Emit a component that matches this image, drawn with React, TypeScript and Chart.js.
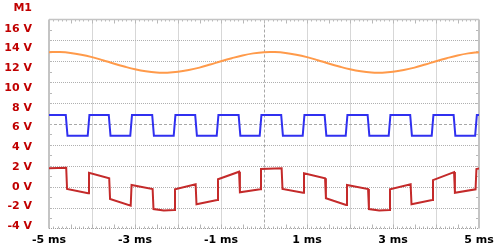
import { useEffect, useRef } from "react";
import { Chart, registerables } from "chart.js";

Chart.register(...registerables);

const xTickValues = [-5, -3, -1, 1, 3, 5];
const yTickValues = [-4, -2, 0, 2, 4, 6, 8, 10, 12, 14, 16];

const orangeTime = [
  -5, -4.75, -4.5, -4.25, -4, -3.75, -3.5, -3.25, -3, -2.75, -2.5, -2.25, -2, -1.75, -1.5, -1.25, -1, -0.75, -0.5, -0.25,
  0, 0.25, 0.5, 0.75, 1, 1.25, 1.5, 1.75, 2, 2.25, 2.5, 2.75, 3, 3.25, 3.5, 3.75, 4, 4.25, 4.5, 4.75, 5,
];
const orangeVolts = [
  13.63, 13.64, 13.56, 13.38, 13.13, 12.82, 12.49, 12.18, 11.9, 11.69, 11.57, 11.56, 11.64, 11.82, 12.07, 12.38, 12.71,
  13.02, 13.3, 13.51, 13.63, 13.64, 13.56, 13.38, 13.13, 12.82, 12.49, 12.18, 11.9, 11.69, 11.57, 11.56, 11.64, 11.82,
  12.07, 12.38, 12.71, 13.02, 13.3, 13.51, 13.63,
];

const blueTime = [
  -5, -4.61, -4.57, -4.1, -4.06, -3.61, -3.57, -3.11, -3.07, -2.6, -2.56, -2.1, -2.06, -1.6, -1.56, -1.1, -1.06, -0.59,
  -0.55, -0.1, -0.06, 0.4, 0.44, 0.9, 0.94, 1.41, 1.45, 1.9, 1.94, 2.41, 2.45, 2.9, 2.94, 3.4, 3.44, 3.9, 3.94, 4.41,
  4.45, 4.91, 4.95, 5,
];
const blueVolts = [
  7.27, 7.27, 5.17, 5.17, 7.27, 7.27, 5.17, 5.17, 7.27, 7.27, 5.17, 5.17, 7.27, 7.27, 5.17, 5.17, 7.27, 7.27, 5.17, 5.17,
  7.27, 7.27, 5.17, 5.17, 7.27, 7.27, 5.17, 5.17, 7.27, 7.27, 5.17, 5.17, 7.27, 7.27, 5.17, 5.17, 7.27, 7.27, 5.17, 5.17,
  7.27, 7.27,
];

const redTime = [
  -5, -4.6, -4.58, -4.09, -4.07, -3.6, -3.58, -3.1, -3.08, -2.59, -2.57, -2.33, -2.09, -2.07, -1.59, -1.57, -1.09, -1.07,
  -0.58, -0.56, -0.09, -0.07, 0.41, 0.43, 0.91, 0.93, 1.42, 1.44, 1.91, 1.93, 2.42, 2.44, 2.68, 2.91, 2.93, 3.41, 3.43,
  3.91, 3.93, 4.42, 4.44, 4.92, 4.94, 5,
];
const redVolts = [
  1.87, 1.93, -0.22, -0.66, 1.43, 0.86, -1.24, -1.91, 0.18, -0.22, -2.25, -2.4, -2.35, -0.25, 0.25, -1.77, -1.34, 0.76,
  1.53, -0.56, -0.25, 1.8, 1.87, -0.22, -0.6, 1.37, 0.86, -1.16, -1.84, 0.18, -0.22, -2.25, -2.4, -2.35, -0.25, 0.25,
  -1.77, -1.34, 0.68, 1.49, -0.6, -0.25, 1.8, 1.85,
];

const channelLabel = "M1";

const toPoints = (xs: number[], ys: number[]) => xs.map((x, i) => ({ x, y: ys[i] }));

const FONT = "'DejaVu Sans', sans-serif";
const TARGET_AREA = { left: 49, top: 19.5, right: 479, bottom: 228.5 };

const scopeGrid = {
  id: "scopeGrid",
  beforeDatasetsDraw(chart: any) {
    const { ctx, chartArea: a } = chart;
    const w = a.right - a.left;
    const h = a.bottom - a.top;
    ctx.save();
    ctx.lineWidth = 1;
    ctx.strokeStyle = "#b0b0b0";
    ctx.setLineDash([1, 1]);
    for (let i = 1; i < 10; i++) {
      if (i === 5) continue;
      const x = Math.round(a.left + (i * w) / 10) + 0.5;
      ctx.beginPath();
      ctx.moveTo(x, a.top);
      ctx.lineTo(x, a.bottom);
      ctx.stroke();
      const y = Math.round(a.top + (i * h) / 10) + 0.5;
      ctx.beginPath();
      ctx.moveTo(a.left, y);
      ctx.lineTo(a.right, y);
      ctx.stroke();
    }
    ctx.strokeStyle = "#a8a8a8";
    ctx.setLineDash([3, 2]);
    const cx = Math.round(a.left + w / 2) + 0.5;
    const cy = Math.round(a.top + h / 2) + 0.5;
    ctx.beginPath();
    ctx.moveTo(cx, a.top);
    ctx.lineTo(cx, a.bottom);
    ctx.stroke();
    ctx.beginPath();
    ctx.moveTo(a.left, cy);
    ctx.lineTo(a.right, cy);
    ctx.stroke();
    ctx.setLineDash([]);
    ctx.strokeStyle = "#b8b8b8";
    for (let i = 1; i < 100; i++) {
      const x = Math.round(a.left + (i * w) / 100) + 0.5;
      const len = i % 5 === 0 ? 4 : 2;
      ctx.beginPath();
      ctx.moveTo(x, a.top);
      ctx.lineTo(x, a.top + len);
      ctx.stroke();
      ctx.beginPath();
      ctx.moveTo(x, a.bottom);
      ctx.lineTo(x, a.bottom - len);
      ctx.stroke();
    }
    for (let i = 1; i < 20; i++) {
      const y = Math.round(a.top + (i * h) / 20) + 0.5;
      ctx.beginPath();
      ctx.moveTo(a.left, y);
      ctx.lineTo(a.left + 3, y);
      ctx.stroke();
      ctx.beginPath();
      ctx.moveTo(a.right, y);
      ctx.lineTo(a.right - 3, y);
      ctx.stroke();
    }
    ctx.strokeStyle = "#c4c4c4";
    ctx.lineWidth = 2;
    ctx.beginPath();
    ctx.moveTo(a.left, a.top);
    ctx.lineTo(a.left, a.bottom);
    ctx.moveTo(a.right, a.top);
    ctx.lineTo(a.right, a.bottom);
    ctx.stroke();
    ctx.lineWidth = 1.5;
    ctx.beginPath();
    ctx.moveTo(a.left, a.top);
    ctx.lineTo(a.right, a.top);
    ctx.stroke();
    ctx.lineWidth = 1;
    ctx.strokeStyle = "#a0a0a0";
    ctx.setLineDash([1, 1]);
    ctx.beginPath();
    ctx.moveTo(a.left, Math.round(a.bottom) - 0.5);
    ctx.lineTo(a.right, Math.round(a.bottom) - 0.5);
    ctx.stroke();
    ctx.restore();
  },
  afterDraw(chart: any) {
    const { ctx } = chart;
    ctx.save();
    ctx.font = `bold 11px ${FONT}`;
    ctx.fillStyle = "#c00000";
    ctx.textAlign = "right";
    ctx.textBaseline = "middle";
    ctx.fillText(channelLabel, 32, 8.5);
    ctx.restore();
  },
};

export default function App() {
  const ref = useRef<HTMLCanvasElement | null>(null);
  useEffect(() => {
    if (!ref.current) return;
    const pad = { top: 19.5, right: 21, bottom: 0, left: 0 };
    const chart = new Chart(ref.current, {
      type: "line",
      data: {
        datasets: [
          {
            data: toPoints(orangeTime, orangeVolts),
            borderColor: "#ff9a4a",
            borderWidth: 2,
            pointRadius: 0,
            tension: 0.4,
            fill: false,
          },
          {
            data: toPoints(blueTime, blueVolts),
            borderColor: "#3030f0",
            borderWidth: 2,
            pointRadius: 0,
            tension: 0,
            fill: false,
          },
          {
            data: toPoints(redTime, redVolts),
            borderColor: "#c42a2a",
            borderWidth: 2,
            pointRadius: 0,
            tension: 0,
            fill: false,
          },
        ],
      },
      options: {
        animation: false,
        responsive: false,
        maintainAspectRatio: false,
        events: [],
        layout: { padding: { ...pad } },
        plugins: { legend: { display: false }, tooltip: { enabled: false }, title: { display: false } },
        scales: {
          x: {
            type: "linear",
            min: -5,
            max: 5,
            grid: { display: false, drawTicks: false },
            border: { display: false },
            afterBuildTicks: (s: any) => {
              s.ticks = xTickValues.map((v) => ({ value: v }));
            },
            afterFit: (s: any) => {
              s.height = 21.5;
              s.paddingLeft = 0;
              s.paddingRight = 0;
            },
            ticks: {
              padding: 5,
              maxRotation: 0,
              autoSkip: false,
              color: "#000000",
              font: { family: FONT, size: 11, weight: "bold" },
              callback: (v: any) => `${v} ms`,
            },
          },
          y: {
            type: "linear",
            min: -4.22,
            max: 16.94,
            grid: { display: false, drawTicks: false },
            border: { display: false },
            afterBuildTicks: (s: any) => {
              s.ticks = yTickValues.map((v) => ({ value: v }));
            },
            afterFit: (s: any) => {
              s.width = 49;
              s.paddingTop = 0;
              s.paddingBottom = 0;
            },
            ticks: {
              padding: 17,
              autoSkip: false,
              color: "#c00000",
              font: { family: FONT, size: 11, weight: "bold" },
              callback: (v: any) => `${v} V`,
            },
          },
        },
      },
      plugins: [scopeGrid],
    });
    for (let k = 0; k < 3; k++) {
      const a = chart.chartArea;
      const dt = TARGET_AREA.top - a.top;
      const dl = TARGET_AREA.left - a.left;
      const dr = a.right - TARGET_AREA.right;
      const db = a.bottom - TARGET_AREA.bottom;
      if (Math.abs(dt) + Math.abs(dl) + Math.abs(dr) + Math.abs(db) < 0.05) break;
      pad.top += dt;
      pad.left += dl;
      pad.right += dr;
      pad.bottom += db;
      (chart.options as any).layout.padding = { ...pad };
      chart.update();
    }
    return () => chart.destroy();
  }, []);
  return (
    <div style={{ position: "fixed", left: 0, top: 0, width: 500, height: 250, background: "#ffffff" }}>
      <canvas ref={ref} width={500} height={250} style={{ display: "block", width: 500, height: 250 }} />
    </div>
  );
}
